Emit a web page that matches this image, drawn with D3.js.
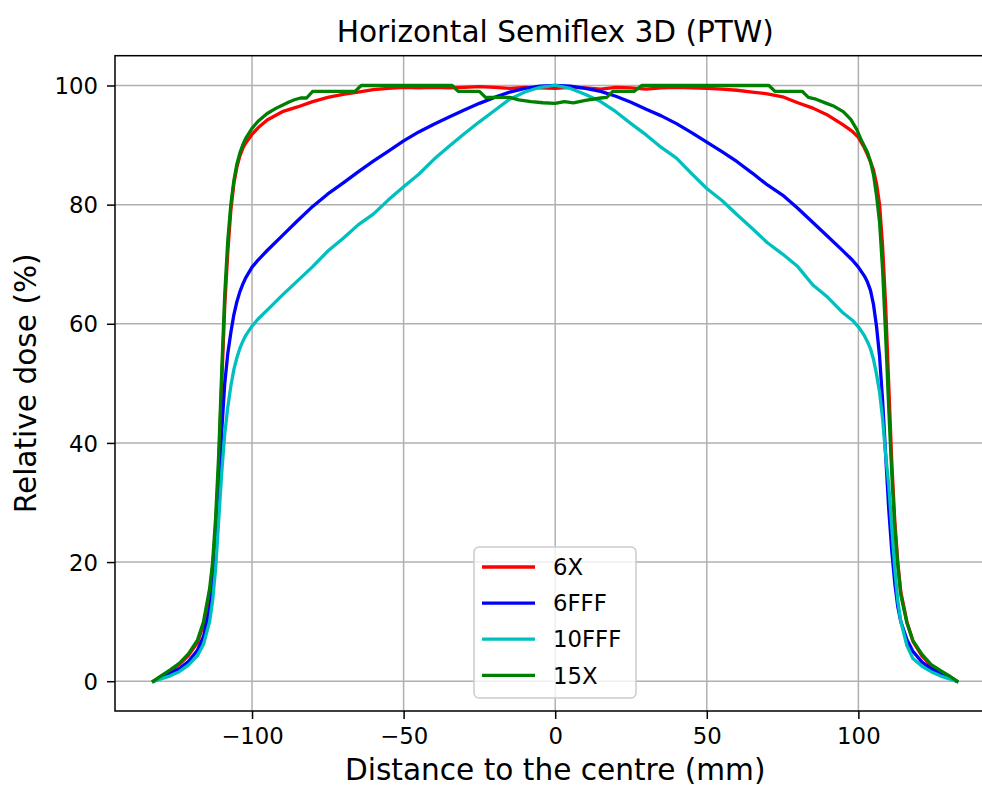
<!DOCTYPE html>
<html>
<head>
<meta charset="utf-8">
<script src="https://cdn.jsdelivr.net/npm/d3@7"></script>
<style>
  body { margin: 0; background: white; }
  text { font-family: "DejaVu Sans", sans-serif; fill: black; }
</style>
</head>
<body>
<div id="chart"></div>
<script>
// distance positions (mm) shared by 6X, 6FFF, 10FFF
var positions = [-132.5, -130, -127, -124, -121, -118, -116, -114, -113, -112, -111, -110, -109, -108, -107, -106, -105, -104, -103, -102,
  -100, -98, -95, -90, -85, -80, -75, -70, -65, -60, -55, -50, -45, -40, -35, -30, -25, -20, -15, -10, -5, 0,
  5, 10, 15, 20, 25, 30, 35, 40, 45, 50, 55, 60, 65, 70, 75, 80, 85, 90, 95, 98, 100,
  102, 103, 104, 105, 106, 107, 108, 109, 110, 111, 112, 113, 114, 116, 118, 121, 124, 127, 130, 132.5];

var dose6X = [0, 0.8, 1.7, 2.8, 4.3, 6.5, 9.5, 14.5, 19, 26, 36, 50, 63, 72, 79, 83.5, 86.3, 88.2, 89.5, 90.4,
  91.8, 92.9, 94.2, 95.6, 96.4, 97.3, 98, 98.5, 98.9, 99.3, 99.5, 99.7, 99.6, 99.7, 99.6, 99.7, 99.8, 99.7, 99.5, 99.7, 99.6, 99.5,
  99.7, 99.6, 99.4, 99.7, 99.6, 99.4, 99.6, 99.7, 99.6, 99.5, 99.4, 99.2, 98.9, 98.6, 98.1, 97.1, 96.2, 95, 93.4, 92.3, 91.3,
  89.5, 88.4, 87.2, 85.8, 83.5, 80, 73, 63, 50, 37, 27, 20, 15, 10, 6.7, 4.2, 2.6, 1.6, 0.8, 0];

var dose6FFF = [0, 0.6, 1.3, 2.1, 3.3, 5.2, 7.5, 12, 16, 22, 31, 42, 50, 55, 58.5, 61.5, 63.7, 65.4, 66.7, 67.8,
  69.5, 70.7, 72.3, 74.8, 77.3, 79.7, 81.8, 83.6, 85.5, 87.3, 89.0, 90.7, 92.2, 93.5, 94.7, 95.9, 97.0, 98.0, 98.9, 99.5, 99.9, 100,
  99.9, 99.5, 99.0, 98.2, 97.2, 96.0, 94.9, 93.6, 92.1, 90.5, 88.9, 87.2, 85.3, 83.3, 81.6, 79.4, 77.0, 74.6, 72.2, 70.7, 69.5,
  68.0, 67.0, 65.6, 63.2, 59.5, 54.5, 47, 38, 29, 22, 16.5, 12.5, 10, 7, 5, 3.2, 2.1, 1.3, 0.6, 0];

var dose10FFF = [0, 0.4, 0.9, 1.6, 2.7, 4.3, 6.2, 10, 13.5, 19, 27, 35, 41.5, 46, 49.5, 52.3, 54.3, 55.9, 57.1, 58.1,
  59.6, 60.8, 62.3, 64.8, 67.2, 69.6, 72.2, 74.3, 76.6, 78.4, 80.8, 83.0, 85.1, 87.6, 89.8, 91.9, 93.9, 95.8, 97.7, 98.9, 99.7, 100,
  99.5, 98.5, 97.3, 95.6, 93.6, 91.7, 89.6, 87.8, 85.2, 82.7, 80.7, 78.3, 76, 73.6, 71.7, 69.6, 66.5, 64.4, 61.8, 60.6, 59.5,
  58.0, 57.0, 55.8, 54.0, 51.5, 48.5, 44, 38, 33, 26, 19, 13.5, 10, 6, 3.8, 2.5, 1.6, 0.9, 0.4, 0];

// 15X is read with its own positions (stepped top)
var positions15X = [-132.5, -130, -127, -124, -121, -118, -116, -114, -113, -112, -111, -110, -109, -108, -107, -106, -105, -104, -103, -102,
  -100, -98, -95, -92, -90, -88, -86, -84, -82, -80, -66, -64, -34, -32, -25, -23, -15, -12, -8, -4, 0,
  3, 6, 10, 15, 17, 19, 26, 28.5, 70.5, 72.5, 81.5, 83.5, 86, 89.5, 92, 95, 97.5, 99.5, 101, 103,
  104, 105, 106, 107, 108, 109, 110, 111, 112, 113, 114, 116, 118, 121, 124, 127, 130, 132.5];

var dose15X = [0, 0.9, 1.9, 3, 4.6, 6.9, 10, 15.5, 20, 27.5, 38, 52, 65, 74, 80, 84, 86.8, 88.7, 90.1, 91.2,
  92.8, 94.0, 95.3, 96.2, 96.7, 97.2, 97.6, 97.9, 97.9, 99, 99, 100, 100, 99, 99, 98, 98, 97.6, 97.3, 97.1, 97.0,
  97.3, 97.1, 97.5, 97.9, 98, 99, 99, 100, 100, 99, 99, 98, 97.7, 97.0, 96.5, 95.6, 94.3, 92.6, 90.8, 88.8,
  87.2, 85, 81.5, 77, 69, 58, 46, 35, 26, 19.5, 14.5, 9.8, 6.8, 4.5, 2.8, 1.8, 0.9, 0];

var seriesNames = ["6X", "6FFF", "10FFF", "15X"];
var seriesColors = ["#ff0000", "#0000ff", "#00bfbf", "#008000"];
var xTicks = [-100, -50, 0, 50, 100];
var yTicks = [0, 20, 40, 60, 80, 100];

var series = [
  { name: seriesNames[0], color: seriesColors[0], xs: positions, ys: dose6X },
  { name: seriesNames[1], color: seriesColors[1], xs: positions, ys: dose6FFF },
  { name: seriesNames[2], color: seriesColors[2], xs: positions, ys: dose10FFF },
  { name: seriesNames[3], color: seriesColors[3], xs: positions15X, ys: dose15X }
];

var width = 982, height = 789;
var plot = { left: 115, top: 55.7, right: 995.4, bottom: 711 };

var svg = d3.select("#chart").append("svg")
  .attr("width", width)
  .attr("height", height);

var x = d3.scaleLinear().domain([-145.2, 145.2]).range([plot.left, plot.right]);
var y = d3.scaleLinear().domain([-5, 105]).range([plot.bottom, plot.top]);

// grid
var grid = svg.append("g").attr("class", "grid");
grid.selectAll(".gx").data(xTicks).enter().append("line")
  .attr("x1", function(d) { return x(d); }).attr("x2", function(d) { return x(d); })
  .attr("y1", plot.top).attr("y2", plot.bottom)
  .attr("stroke", "#b0b0b0").attr("stroke-width", 1.5);
grid.selectAll(".gy").data(yTicks).enter().append("line")
  .attr("x1", plot.left).attr("x2", plot.right)
  .attr("y1", function(d) { return y(d); }).attr("y2", function(d) { return y(d); })
  .attr("stroke", "#b0b0b0").attr("stroke-width", 1.5);

// curves
var line = d3.line()
  .x(function(d) { return x(d[0]); })
  .y(function(d) { return y(d[1]); });

series.forEach(function(s) {
  var pts = s.xs.map(function(v, i) { return [v, s.ys[i]]; });
  svg.append("path")
    .datum(pts)
    .attr("d", line)
    .attr("fill", "none")
    .attr("stroke", s.color)
    .attr("stroke-width", 3.3)
    .attr("stroke-linejoin", "round")
    .attr("stroke-linecap", "square");
});

// axes
var xAxis = svg.append("g")
  .attr("transform", "translate(0," + plot.bottom + ")")
  .call(d3.axisBottom(x).tickValues(xTicks).tickSize(8).tickPadding(8).tickSizeOuter(0));
var yAxis = svg.append("g")
  .attr("transform", "translate(" + plot.left + ",0)")
  .call(d3.axisLeft(y).tickValues(yTicks).tickSize(8).tickPadding(9).tickSizeOuter(0));

[xAxis, yAxis].forEach(function(a) {
  a.select(".domain").remove();
  a.selectAll(".tick line").attr("stroke", "black").attr("stroke-width", 1.5);
  a.selectAll(".tick text").style("font-size", "22.8px").attr("fill", "black");
});
xAxis.selectAll(".tick text").attr("dy", "0.76em");
yAxis.selectAll(".tick text").attr("dy", "0.36em");

// frame
svg.append("rect")
  .attr("x", plot.left).attr("y", plot.top)
  .attr("width", plot.right - plot.left).attr("height", plot.bottom - plot.top)
  .attr("fill", "none").attr("stroke", "black").attr("stroke-width", 1.5);

// title and labels
svg.append("text")
  .attr("x", (plot.left + plot.right) / 2).attr("y", 42)
  .attr("text-anchor", "middle")
  .style("font-size", "29.6px")
  .text("Horizontal Semiflex 3D (PTW)");

svg.append("text")
  .attr("x", (plot.left + plot.right) / 2).attr("y", 780)
  .attr("text-anchor", "middle")
  .style("font-size", "29.6px")
  .text("Distance to the centre (mm)");

svg.append("text")
  .attr("transform", "translate(36," + ((plot.top + plot.bottom) / 2) + ") rotate(-90)")
  .attr("text-anchor", "middle")
  .style("font-size", "29.6px")
  .text("Relative dose (%)");

// legend
var legend = svg.append("g").attr("transform", "translate(474,547)");
legend.append("rect")
  .attr("width", 162).attr("height", 151)
  .attr("rx", 5).attr("ry", 5)
  .attr("fill", "white").attr("fill-opacity", 0.8)
  .attr("stroke", "#cccccc").attr("stroke-width", 1.5);

var rows = legend.selectAll(".row").data(series).enter().append("g")
  .attr("transform", function(d, i) { return "translate(0," + (20 + i * 36.1) + ")"; });
rows.append("line")
  .attr("x1", 8).attr("x2", 61)
  .attr("stroke", function(d) { return d.color; })
  .attr("stroke-width", 3.3);
rows.append("text")
  .attr("x", 79).attr("dy", "0.36em")
  .style("font-size", "22.8px")
  .text(function(d) { return d.name; });
</script>
</body>
</html>
